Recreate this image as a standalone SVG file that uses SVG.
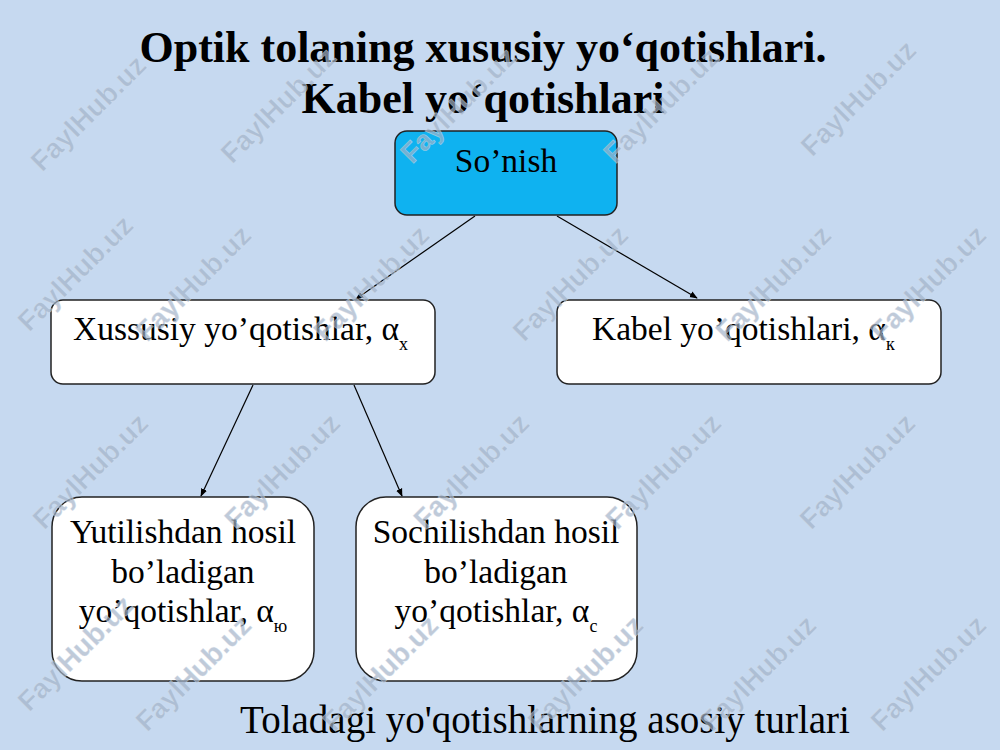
<svg xmlns="http://www.w3.org/2000/svg" width="1000" height="750" viewBox="0 0 1000 750">
  <defs>
    <marker id="arr" viewBox="0 0 10 10" refX="9" refY="5" markerWidth="8" markerHeight="8" orient="auto" markerUnits="userSpaceOnUse">
      <path d="M0,1 L10,5 L0,9 Z" fill="#000"/>
    </marker>
    <style>
      .t { font-family: "Liberation Serif", "Times New Roman", serif; fill: #000; }
      .title { font-size: 44px; font-weight: bold; }
      .lbl { font-size: 33.5px; }
      .sub { font-size: 18px; }
      .box { fill: #fff; stroke: #222; stroke-width: 1.5; }
      .wm { font-family: "Liberation Sans", Arial, sans-serif; font-weight: 700; font-size: 28px; fill: #a3b3c8; fill-opacity: 0.7; stroke: #dfe7f1; stroke-opacity: 0.5; stroke-width: 0.6; }
      .conn { stroke: #000; stroke-width: 1.2; fill: none; }
    </style>
  </defs>
  <rect x="0" y="0" width="1000" height="750" fill="#c6d9f0"/>

  <g id="title">
    <text class="t title" x="483" y="62" text-anchor="middle">Optik tolaning xususiy yo‘qotishlari.</text>
    <text class="t title" x="483" y="113" text-anchor="middle">Kabel yo‘qotishlari</text>
  </g>

  <g id="connectors">
    <line class="conn" x1="475" y1="216" x2="356" y2="299" marker-end="url(#arr)"/>
    <line class="conn" x1="557" y1="216" x2="697" y2="298" marker-end="url(#arr)"/>
    <line class="conn" x1="253" y1="385" x2="201" y2="496" marker-end="url(#arr)"/>
    <line class="conn" x1="354" y1="385" x2="402" y2="496" marker-end="url(#arr)"/>
  </g>

  <g id="node-sonish">
    <rect x="395" y="131" width="222" height="84" rx="12" fill="#0fb2f0" stroke="#222" stroke-width="1.5"/>
    <text class="t lbl" x="506" y="172" text-anchor="middle">So’nish</text>
  </g>

  <g id="node-xususiy">
    <rect class="box" x="51" y="300" width="384" height="84" rx="12"/>
    <text class="t lbl" x="73" y="340">Xussusiy yo’qotishlar, α<tspan class="sub" dy="10">х</tspan></text>
  </g>

  <g id="node-kabel">
    <rect class="box" x="557" y="300" width="384" height="84" rx="12"/>
    <text class="t lbl" x="592" y="340">Kabel yo’qotishlari, α<tspan class="sub" dy="10">к</tspan></text>
  </g>

  <g id="node-yutilish">
    <rect class="box" x="52" y="497" width="262" height="184" rx="30"/>
    <text class="t lbl" x="183" y="543" text-anchor="middle">Yutilishdan hosil</text>
    <text class="t lbl" x="183" y="583" text-anchor="middle">bo’ladigan</text>
    <text class="t lbl" x="183" y="622" text-anchor="middle">yo’qotishlar, α<tspan class="sub" dy="10">ю</tspan></text>
  </g>

  <g id="node-sochilish">
    <rect class="box" x="356" y="497" width="281" height="184" rx="30"/>
    <text class="t lbl" x="496" y="543" text-anchor="middle">Sochilishdan hosil</text>
    <text class="t lbl" x="496" y="583" text-anchor="middle">bo’ladigan</text>
    <text class="t lbl" x="496" y="622" text-anchor="middle">yo’qotishlar, α<tspan class="sub" dy="10">с</tspan></text>
  </g>

  <g id="caption">
    <text class="t" x="545" y="733" text-anchor="middle" font-size="39">Toladagi yo'qotishlarning asosiy turlari</text>
  </g>

  <g id="watermarks">
    <text class="wm" x="95" y="120" text-anchor="middle" transform="rotate(-45 95 120)">FaylHub.uz</text>
    <text class="wm" x="285" y="112" text-anchor="middle" transform="rotate(-45 285 112)">FaylHub.uz</text>
    <text class="wm" x="465" y="112" text-anchor="middle" transform="rotate(-45 465 112)">FaylHub.uz</text>
    <text class="wm" x="668" y="112" text-anchor="middle" transform="rotate(-45 668 112)">FaylHub.uz</text>
    <text class="wm" x="865" y="105" text-anchor="middle" transform="rotate(-45 865 105)">FaylHub.uz</text>
    <text class="wm" x="82" y="280" text-anchor="middle" transform="rotate(-45 82 280)">FaylHub.uz</text>
    <text class="wm" x="200" y="290" text-anchor="middle" transform="rotate(-45 200 290)">FaylHub.uz</text>
    <text class="wm" x="378" y="290" text-anchor="middle" transform="rotate(-45 378 290)">FaylHub.uz</text>
    <text class="wm" x="577" y="290" text-anchor="middle" transform="rotate(-45 577 290)">FaylHub.uz</text>
    <text class="wm" x="780" y="290" text-anchor="middle" transform="rotate(-45 780 290)">FaylHub.uz</text>
    <text class="wm" x="935" y="290" text-anchor="middle" transform="rotate(-45 935 290)">FaylHub.uz</text>
    <text class="wm" x="97" y="478" text-anchor="middle" transform="rotate(-45 97 478)">FaylHub.uz</text>
    <text class="wm" x="289" y="478" text-anchor="middle" transform="rotate(-45 289 478)">FaylHub.uz</text>
    <text class="wm" x="478" y="478" text-anchor="middle" transform="rotate(-45 478 478)">FaylHub.uz</text>
    <text class="wm" x="670" y="478" text-anchor="middle" transform="rotate(-45 670 478)">FaylHub.uz</text>
    <text class="wm" x="864" y="478" text-anchor="middle" transform="rotate(-45 864 478)">FaylHub.uz</text>
    <text class="wm" x="82" y="660" text-anchor="middle" transform="rotate(-45 82 660)">FaylHub.uz</text>
    <text class="wm" x="200" y="680" text-anchor="middle" transform="rotate(-45 200 680)">FaylHub.uz</text>
    <text class="wm" x="387" y="680" text-anchor="middle" transform="rotate(-45 387 680)">FaylHub.uz</text>
    <text class="wm" x="592" y="680" text-anchor="middle" transform="rotate(-45 592 680)">FaylHub.uz</text>
    <text class="wm" x="765" y="680" text-anchor="middle" transform="rotate(-45 765 680)">FaylHub.uz</text>
    <text class="wm" x="935" y="680" text-anchor="middle" transform="rotate(-45 935 680)">FaylHub.uz</text>
  </g>
</svg>
